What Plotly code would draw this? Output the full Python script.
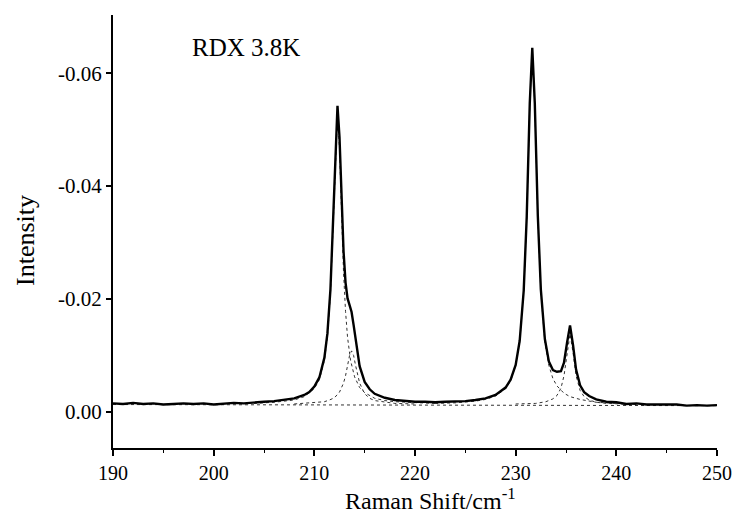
import plotly.graph_objects as go

spec_x = [190, 191, 192, 193, 194, 195, 196, 197, 198, 199, 200, 201, 202, 203, 204, 205, 206, 207, 208, 209,
          209.5, 210, 210.5, 211, 211.3, 211.6, 211.9, 212.1, 212.3, 212.5, 212.7, 212.9, 213.1, 213.3, 213.5,
          213.7, 213.9, 214.2, 214.5, 215, 215.5, 216, 217, 218, 219, 220, 221, 222, 223, 224, 225, 226, 227,
          228, 229, 229.5, 230, 230.4, 230.8, 231.1, 231.4, 231.65, 231.9, 232.2, 232.5, 232.9, 233.3, 233.7,
          234.1, 234.5, 234.8, 235.1, 235.4, 235.7, 236.0, 236.4, 236.8, 237.3, 238, 239, 240, 241, 242, 243,
          244, 245, 246, 247, 248, 249, 250]
spec_y = [-0.0015, -0.0014, -0.0016, -0.0014, -0.0015, -0.0013, -0.0014, -0.0015, -0.0014, -0.0015, -0.0013,
          -0.0015, -0.0016, -0.0015, -0.0017, -0.0018, -0.0019, -0.0021, -0.0024, -0.0030,
          -0.0035, -0.0045, -0.0061, -0.0096, -0.0139, -0.0217, -0.0359, -0.0479, -0.0542, -0.0487, -0.0377,
          -0.0285, -0.0229, -0.0201, -0.0189,
          -0.0177, -0.0154, -0.0113, -0.0081, -0.0053, -0.0040, -0.0032, -0.0025, -0.0021, -0.0019, -0.0018,
          -0.0018, -0.0017, -0.0018, -0.0018, -0.0019, -0.0021, -0.0024,
          -0.0030, -0.0043, -0.0057, -0.0083, -0.0126, -0.0215, -0.0346, -0.0546, -0.0645, -0.0547, -0.0348,
          -0.0217, -0.0129, -0.0089, -0.0074,
          -0.0071, -0.0072, -0.0087, -0.0122, -0.0153, -0.0118, -0.0075, -0.0047, -0.0035, -0.0028, -0.0022,
          -0.0018, -0.0017, -0.0014, -0.0015, -0.0013,
          -0.0013, -0.0012, -0.0013, -0.0011, -0.0012, -0.0011, -0.0012]

# Fitted components
compA_x = [204, 206, 208, 209, 210, 210.5, 211, 211.3, 211.6, 211.9, 212.1, 212.3, 212.5, 212.7, 212.9, 213.1,
           213.3, 213.6, 214, 214.5, 215, 216, 217, 218, 220, 222]
compA_y = [-0.0015, -0.0017, -0.0021, -0.0027, -0.0041, -0.0057, -0.0091, -0.0132, -0.0209, -0.0348, -0.0466,
           -0.0525, -0.0466, -0.0348, -0.0247, -0.0178, -0.0132, -0.0091, -0.0062, -0.0043, -0.0034, -0.0024,
           -0.0020, -0.0018, -0.0016, -0.0015]

compB_x = [208, 209, 210, 211, 211.5, 212, 212.5, 212.9, 213.1, 213.3, 213.5, 213.7, 213.9, 214.1, 214.3, 214.5,
           215, 215.5, 216, 217, 218, 220]
compB_y = [-0.0014, -0.0015, -0.0016, -0.0018, -0.0021, -0.0025, -0.0035, -0.0051, -0.0064, -0.0082, -0.0100,
           -0.0108, -0.0100, -0.0082, -0.0064, -0.0051, -0.0032, -0.0024, -0.0020, -0.0017, -0.0015, -0.0014]

compC_x = [222, 224, 226, 227, 228, 229, 229.5, 230, 230.4, 230.8, 231.1, 231.4, 231.65, 231.9, 232.2, 232.5,
           232.9, 233.3, 233.7, 234.1, 234.8, 235.4, 236.4, 237.3, 238, 240, 242]
compC_y = [-0.0015, -0.0016, -0.0019, -0.0022, -0.0028, -0.0041, -0.0055, -0.0082, -0.0124, -0.0213, -0.0344,
           -0.0544, -0.0643, -0.0544, -0.0344, -0.0213, -0.0124, -0.0082, -0.0059, -0.0046, -0.0033, -0.0027,
           -0.0022, -0.0019, -0.0017, -0.0015, -0.0014]

compD_x = [230, 231, 232, 233, 233.7, 234.1, 234.5, 234.8, 235.1, 235.4, 235.7, 236.0, 236.4, 236.8, 237.3, 238,
           239, 240, 242]
compD_y = [-0.0014, -0.0014, -0.0015, -0.0018, -0.0023, -0.0029, -0.0042, -0.0064, -0.0105, -0.0138, -0.0105,
           -0.0064, -0.0038, -0.0027, -0.0021, -0.0017, -0.0015, -0.0014, -0.0013]

base_x = [190, 250]
base_y = [-0.0013, -0.0011]

x_ticks = [190, 200, 210, 220, 230, 240, 250]
y_ticks = [-0.06, -0.04, -0.02, 0.00]
y_tick_text = ["-0.06", "-0.04", "-0.02", "0.00"]

FONT = "Liberation Serif"

fig = go.Figure()
comp_line = dict(color="#333333", width=1, dash="dot")
for cx, cy in [(base_x, base_y), (compA_x, compA_y), (compB_x, compB_y), (compC_x, compC_y), (compD_x, compD_y)]:
    fig.add_trace(go.Scatter(x=cx, y=cy, mode="lines", line=comp_line, showlegend=False, hoverinfo="skip"))

fig.add_trace(go.Scatter(x=spec_x, y=spec_y, mode="lines", line=dict(color="black", width=2.4),
                         showlegend=False))

fig.update_layout(
    width=738, height=514,
    margin=dict(l=113, r=21, t=15, b=66),
    paper_bgcolor="white", plot_bgcolor="white",
    font=dict(family=FONT, color="black", size=20),
    xaxis=dict(
        range=[190, 250], tickvals=x_ticks, ticks="outside", ticklen=6, tickwidth=1.5, tickcolor="black",
        minor=dict(dtick=5, ticks="outside", ticklen=3, tickwidth=1.2, tickcolor="black"),
        showline=True, linecolor="black", linewidth=2, showgrid=False, zeroline=False,
        tickfont=dict(family=FONT, size=20), automargin=False,
    ),
    yaxis=dict(
        range=[0.0064, -0.0703], tickvals=y_ticks, ticktext=y_tick_text, ticks="outside", ticklen=5,
        tickwidth=1.5, tickcolor="black",
        showline=True, linecolor="black", linewidth=2, showgrid=False, zeroline=False,
        tickfont=dict(family=FONT, size=21), automargin=False,
    ),
    annotations=[
        dict(text="RDX 3.8K", xref="paper", yref="paper", x=0.127, y=0.924,
             xanchor="left", yanchor="middle", showarrow=False,
             font=dict(family=FONT, size=25, color="black")),
        dict(text="Raman Shift/cm<sup>-1</sup>", xref="paper", yref="paper", x=0.525, y=-0.117,
             xanchor="center", yanchor="middle", showarrow=False,
             font=dict(family=FONT, size=24, color="black")),
        dict(text="Intensity", xref="paper", yref="paper", x=-0.146, y=0.48, textangle=-90,
             xanchor="center", yanchor="middle", showarrow=False,
             font=dict(family=FONT, size=26, color="black")),
    ],
)

fig.write_html("out.html")
